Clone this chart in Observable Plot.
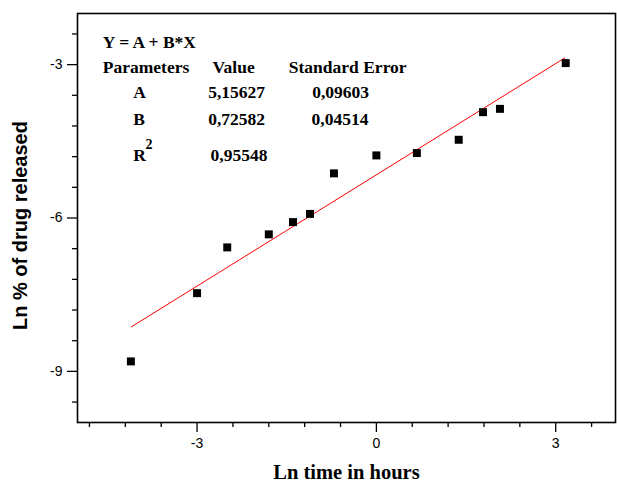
<!DOCTYPE html>
<html>
<head>
<meta charset="utf-8">
<script src="https://cdn.jsdelivr.net/npm/d3@7"></script>
<script src="https://cdn.jsdelivr.net/npm/@observablehq/plot@0.6"></script>
<style>
  html, body { margin: 0; padding: 0; background: #fff; }
</style>
</head>
<body>
<div id="chart"></div>
<script>
// Measured points (Ln time in hours vs Ln % of drug released)
const lnTime    = [-4.107, -3.0, -2.495, -1.8, -1.395, -1.11, -0.71, 0.0, 0.677, 1.377, 1.783, 2.067, 3.167];
const lnRelease = [-8.805, -7.47, -6.575, -6.32, -6.08, -5.92, -5.127, -4.776, -4.73, -4.47, -3.93, -3.865, -2.97];

// Fitted line (endpoints)
const fitX = [-4.1, 3.15];
const fitY = [-8.13, -2.87];

// Tick values
const xMajor = [-3, 0, 3];
const xMinor = [-4.8, -4.2, -3.6, -2.4, -1.8, -1.2, -0.6, 0.6, 1.2, 1.8, 2.4, 3.6];
const yMajor = [-9, -6, -3];
const yMinor = [-9.6, -8.4, -7.8, -7.2, -6.6, -5.4, -4.8, -4.2, -3.6, -2.4];

// Annotation table text
const fitTitle = "Y = A + B*X";
const tableHeader = ["Parameters", "Value", "Standard Error"];
const paramNames = ["A", "B", "R"];
const paramValues = ["5,15627", "0,72582", "0,95548"];
const paramErrors = ["0,09603", "0,04514"];

const points = lnTime.map((x, i) => ({x, y: lnRelease[i]}));
const fitLine = fitX.map((x, i) => ({x, y: fitY[i]}));

const serif = "Liberation Serif, Times New Roman, serif";
const sans = "Liberation Sans, Arial, sans-serif";

function note(text, dx, dy, size = 17.5) {
  return Plot.text([text], {
    frameAnchor: "top-left", dx, dy, text: d => d,
    textAnchor: "start", lineAnchor: "middle",
    fontFamily: serif, fontWeight: "bold", fontSize: size, fill: "black"
  });
}

const colX = [25.3, 135, 211.3];
const nameX = 55.7, valX = [130.7, 130.7, 133], errX = [234.7, 234];
const rowY = [79.3, 106, 141.7];

const chart = Plot.plot({
  width: 617,
  height: 482,
  marginLeft: 77,
  marginRight: 2,
  marginTop: 13,
  marginBottom: 60,
  style: {fontFamily: sans, background: "white"},
  x: {domain: [-5, 4]},
  y: {domain: [-10, -2]},
  marks: [
    Plot.axisX({ticks: xMinor, tickSize: 5, tickFormat: () => "", label: null, strokeWidth: 1.3}),
    Plot.axisX({ticks: xMajor, tickSize: 10, tickPadding: 6, tickFormat: d => String(d), label: null,
      fontSize: 14, fontFamily: sans, strokeWidth: 1.3}),
    Plot.axisY({ticks: yMinor, tickSize: 5, tickFormat: () => "", label: null, strokeWidth: 1.3}),
    Plot.axisY({ticks: yMajor, tickSize: 10, tickPadding: 5, tickFormat: d => String(d), label: null,
      fontSize: 14, fontFamily: sans, strokeWidth: 1.3}),
    Plot.frame({stroke: "black", strokeWidth: 1.6}),
    Plot.line(fitLine, {x: "x", y: "y", stroke: "#ff0000", strokeWidth: 1}),
    Plot.dot(points, {x: "x", y: "y", symbol: "square", r: 4.5, fill: "black", stroke: "none"}),
    note(fitTitle, 25.3, 29.3),
    ...tableHeader.map((t, i) => note(t, colX[i], 54)),
    ...paramNames.map((t, i) => note(t, nameX, rowY[i])),
    note("2", 68, 131, 14),
    ...paramValues.map((t, i) => note(t, valX[i], rowY[i] + (i === 2 ? 0.3 : 0))),
    ...paramErrors.map((t, i) => note(t, errX[i], rowY[i])),
    Plot.text(["Ln time in hours"], {
      frameAnchor: "bottom", dy: 49.5, text: d => d, textAnchor: "middle", lineAnchor: "middle",
      fontFamily: serif, fontWeight: "bold", fontSize: 20.5, fill: "black"
    }),
    Plot.text(["Ln % of drug released"], {
      frameAnchor: "left", dx: -57, dy: 7.5, rotate: -90, text: d => d,
      textAnchor: "middle", lineAnchor: "middle",
      fontFamily: sans, fontWeight: "bold", fontSize: 20, fill: "black"
    })
  ]
});
document.getElementById("chart").appendChild(chart);
</script>
</body>
</html>
